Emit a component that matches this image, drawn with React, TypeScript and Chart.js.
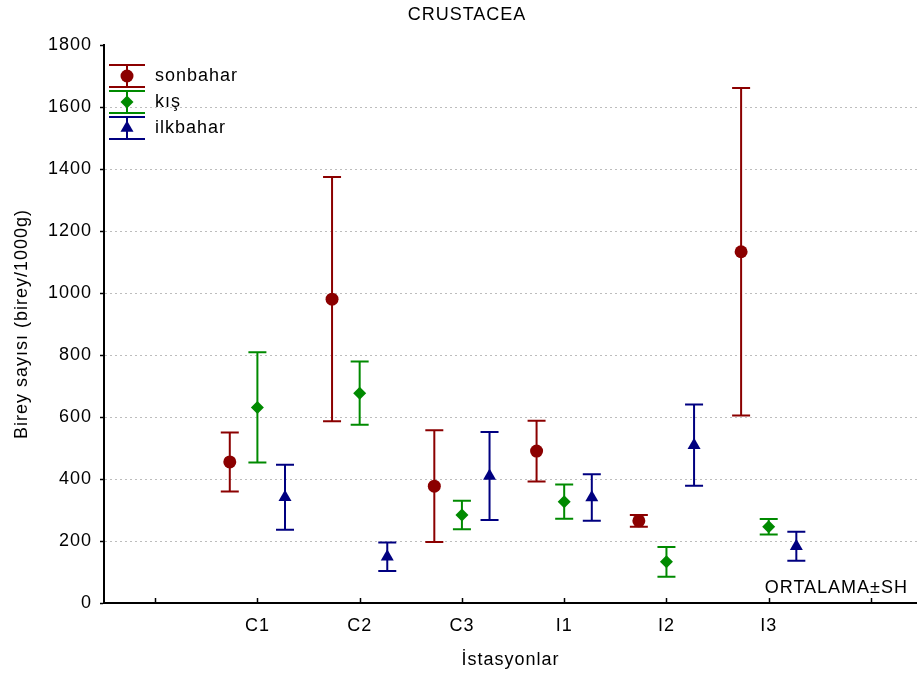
import React, { useEffect, useRef } from 'react';
import { Chart, registerables } from 'chart.js';

Chart.register(...registerables);

const chartTitle = 'CRUSTACEA';
const xAxisTitle = 'İstasyonlar';
const yAxisTitle = 'Birey sayısı (birey/1000g)';
const noteText = 'ORTALAMA±SH';

const categories = ['C1', 'C2', 'C3', 'I1', 'I2', 'I3'];
const xTickLabels = ['', 'C1', 'C2', 'C3', 'I1', 'I2', 'I3', ''];
const yTickValues = [0, 200, 400, 600, 800, 1000, 1200, 1400, 1600, 1800];

const seriesNames = ['sonbahar', 'kış', 'ilkbahar'];
const sonbaharMean = [455, 980, 377, 490, 265, 1133];
const sonbaharSE = [95, 394, 180, 98, 19, 528];
const kisMean = [631, 677, 284, 327, 133, 246];
const kisSE = [178, 102, 46, 55, 48, 25];
const ilkbaharMean = [341, 149, 410, 340, 509, 183];
const ilkbaharSE = [105, 46, 142, 75, 131, 47];

const seriesColors = ['#8B0000', '#008A00', '#000080'];
const seriesMarkers = ['circle', 'rectRot', 'triangle'];
const seriesOffsets = [-0.27, 0, 0.27];
const seriesRadius = [6.5, 6.5, 7.5];

const FONT = "'Liberation Sans', Arial, sans-serif";
const FS = 18;
const SPACING = '1px';

const meansAll = [sonbaharMean, kisMean, ilkbaharMean];
const seAll = [sonbaharSE, kisSE, ilkbaharSE];

const spacingPlugin = {
  id: 'spacing',
  beforeLayout(chart: any) {
    chart.ctx.letterSpacing = SPACING;
  },
  beforeDraw(chart: any) {
    chart.ctx.letterSpacing = SPACING;
  },
};

const errorBarPlugin = {
  id: 'errorBars',
  beforeDatasetsDraw(chart: any) {
    const ctx = chart.ctx;
    const xs = chart.scales.x;
    const ys = chart.scales.y;
    ctx.save();
    chart.data.datasets.forEach((ds: any, di: number) => {
      const se = seAll[di];
      ctx.strokeStyle = seriesColors[di];
      ctx.lineWidth = 2;
      ds.data.forEach((p: any, i: number) => {
        const px = xs.getPixelForValue(p.x);
        const top = ys.getPixelForValue(p.y + se[i]);
        const bot = ys.getPixelForValue(p.y - se[i]);
        const hw = 9;
        ctx.beginPath();
        ctx.moveTo(px, top);
        ctx.lineTo(px, bot);
        ctx.moveTo(px - hw, top);
        ctx.lineTo(px + hw, top);
        ctx.moveTo(px - hw, bot);
        ctx.lineTo(px + hw, bot);
        ctx.stroke();
      });
    });
    ctx.restore();
  },
};

function drawMarker(ctx: any, style: string, r: number, x: number, y: number, color: string) {
  ctx.save();
  ctx.fillStyle = color;
  ctx.beginPath();
  if (style === 'circle') {
    ctx.arc(x, y, r, 0, Math.PI * 2);
  } else if (style === 'rectRot') {
    ctx.moveTo(x - r, y);
    ctx.lineTo(x, y - r);
    ctx.lineTo(x + r, y);
    ctx.lineTo(x, y + r);
    ctx.closePath();
  } else {
    ctx.moveTo(x, y - r);
    ctx.lineTo(x + r * Math.cos(Math.PI / 6), y + r / 2);
    ctx.lineTo(x - r * Math.cos(Math.PI / 6), y + r / 2);
    ctx.closePath();
  }
  ctx.fill();
  ctx.restore();
}

const decorPlugin = {
  id: 'decor',
  afterDraw(chart: any) {
    const ctx = chart.ctx;
    const xs = chart.scales.x;
    const area = chart.chartArea;
    ctx.save();
    ctx.letterSpacing = SPACING;
    ctx.fillStyle = '#000';
    ctx.font = `${FS}px ${FONT}`;
    ctx.textAlign = 'center';
    ctx.textBaseline = 'middle';
    ctx.fillText(chartTitle, 467, 15);
    // x tick marks (inward)
    ctx.strokeStyle = '#000';
    ctx.lineWidth = 1.5;
    for (let v = 0; v < xTickLabels.length; v++) {
      const px = Math.round(xs.getPixelForValue(v)) + 0.5;
      ctx.beginPath();
      ctx.moveTo(px, area.bottom);
      ctx.lineTo(px, area.bottom - 5);
      ctx.stroke();
    }
    ctx.textAlign = 'right';
    ctx.fillText(noteText, 908, 588);
    // legend
    const cx = 127;
    const rows = [76, 102, 128];
    seriesNames.forEach((name, i) => {
      const cy = rows[i];
      ctx.strokeStyle = seriesColors[i];
      ctx.lineWidth = 2;
      ctx.beginPath();
      ctx.moveTo(cx, cy - 11);
      ctx.lineTo(cx, cy + 11);
      ctx.moveTo(cx - 18, cy - 11);
      ctx.lineTo(cx + 18, cy - 11);
      ctx.moveTo(cx - 18, cy + 11);
      ctx.lineTo(cx + 18, cy + 11);
      ctx.stroke();
      drawMarker(ctx, seriesMarkers[i], seriesRadius[i], cx, cy, seriesColors[i]);
      ctx.fillStyle = '#000';
      ctx.textAlign = 'left';
      ctx.textBaseline = 'middle';
      ctx.font = `${FS}px ${FONT}`;
      ctx.fillText(name, 155, cy);
    });
    ctx.restore();
  },
};

export default function App() {
  const ref = useRef<HTMLCanvasElement | null>(null);

  useEffect(() => {
    if (!ref.current) return;
    const datasets = seriesNames.map((name, di) => ({
      label: name,
      data: categories.map((_, i) => ({ x: i + 1 + seriesOffsets[di], y: meansAll[di][i] })),
      pointStyle: seriesMarkers[di],
      pointRadius: seriesRadius[di],
      pointHoverRadius: seriesRadius[di],
      backgroundColor: seriesColors[di],
      borderColor: seriesColors[di],
      borderWidth: 0,
      showLine: false,
    }));

    const chart = new Chart(ref.current, {
      type: 'scatter',
      data: { datasets },
      plugins: [spacingPlugin, errorBarPlugin, decorPlugin],
      options: {
        animation: false,
        responsive: false,
        maintainAspectRatio: false,
        layout: { autoPadding: false, padding: { top: 45, left: 0, right: 0, bottom: 0 } },
        plugins: {
          legend: { display: false },
          title: { display: false },
          tooltip: { enabled: false },
        },
        scales: {
          x: {
            type: 'linear',
            min: -0.5,
            max: 7.45,
            afterBuildTicks: (scale: any) => {
              scale.ticks = xTickLabels.map((_, v) => ({ value: v }));
            },
            afterFit: (scale: any) => {
              scale.height = 80;
              scale.paddingLeft = 0;
              scale.paddingRight = 0;
            },
            ticks: {
              autoSkip: false,
              maxRotation: 0,
              padding: 12,
              color: '#000',
              font: { family: FONT, size: FS },
              callback: (v: any) => xTickLabels[v] ?? '',
            },
            grid: { display: false, drawTicks: false },
            border: { display: true, color: '#000', width: 2 },
            title: {
              display: true,
              text: xAxisTitle,
              color: '#000',
              font: { family: FONT, size: FS },
              padding: { top: 0, bottom: 12 },
            },
          },
          y: {
            type: 'linear',
            min: 0,
            max: 1800,
            afterBuildTicks: (scale: any) => {
              scale.ticks = yTickValues.map((v) => ({ value: v }));
            },
            afterFit: (scale: any) => {
              scale.width = 104;
              scale.paddingTop = 0;
              scale.paddingBottom = 0;
            },
            ticks: {
              padding: 8,
              color: '#000',
              font: { family: FONT, size: FS },
              callback: (v: any) => String(v),
            },
            grid: {
              color: (c: any) => (c.tick && (c.tick.value === 0 || c.tick.value === 1800) ? 'rgba(0,0,0,0)' : '#bdbdbd'),
              lineWidth: 1,
              drawTicks: true,
              tickLength: 4,
              tickColor: '#000',
              tickWidth: 1.5,
              tickBorderDash: [],
            },
            border: { display: true, color: '#000', width: 2, dash: [2, 3] },
            title: {
              display: true,
              text: yAxisTitle,
              color: '#000',
              font: { family: FONT, size: FS },
              padding: { top: 11, bottom: 0 },
            },
          },
        },
      },
    } as any);
    return () => chart.destroy();
  }, []);

  return (
    <div style={{ position: 'absolute', left: 0, top: 0, width: 917, height: 683, background: '#fff' }}>
      <canvas ref={ref} width={917} height={683} />
    </div>
  );
}
